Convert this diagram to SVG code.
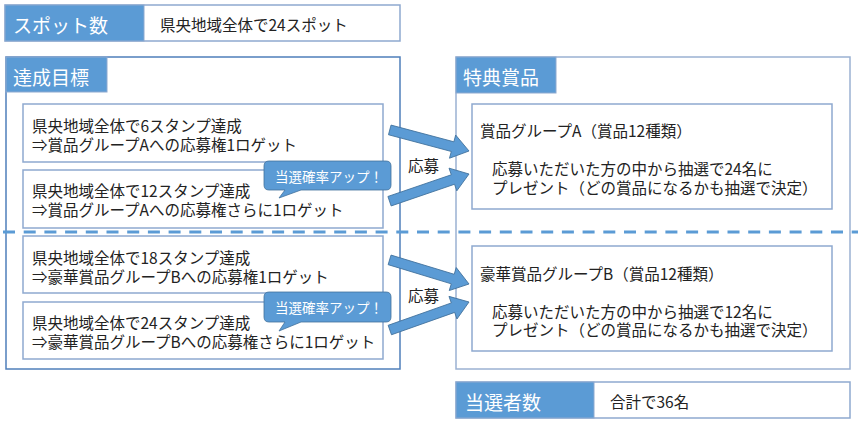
<svg xmlns="http://www.w3.org/2000/svg" width="858" height="425" viewBox="0 0 858 425">
<style>
text{font-family:"Noto Sans CJK JP","Noto Sans",sans-serif;dominant-baseline:central;}
.t{font-size:15.5px;fill:#222;}
.h{font-size:19px;fill:#fff;}
.b{font-size:13.5px;fill:#fff;}
.panel{fill:#fff;stroke:#4f7fba;stroke-width:1.5;}
.panel2{fill:#fff;stroke:#9bb1d2;stroke-width:1.5;}
.box{fill:#fff;stroke:#8ea9cf;stroke-width:1.5;}
.lab{fill:#5b9bd5;stroke:#8ea9cf;stroke-width:1;}
.arr{fill:#5b9bd5;stroke:#41719c;stroke-width:0.8;}
.bub{fill:#5b9bd5;stroke:#41719c;stroke-width:0.8;}
</style>
<rect width="858" height="425" fill="#fff"/>
<g id="spots">
<rect x="5" y="5" width="395" height="36" class="box"/>
<rect x="5" y="5" width="139" height="36" class="lab"/>
<text x="13" y="24" class="h">スポット数</text>
<text x="160" y="24" class="t">県央地域全体で24スポット</text>
</g>
<g id="goals">
<rect x="6" y="57" width="394" height="312" class="panel"/>
<rect x="6" y="57" width="101" height="35" class="lab"/>
<text x="13" y="76" class="h">達成目標</text>
</g>
<g id="prizes">
<rect x="456" y="57" width="394" height="312" class="panel2"/>
<rect x="456" y="57" width="100" height="36" class="lab"/>
<text x="463" y="76" class="h">特典賞品</text>
</g>
<g id="divider">
<line x1="3" y1="232" x2="858" y2="232" stroke="#5b9bd5" stroke-width="3" stroke-dasharray="12,8.7"/>
</g>
<g id="goal1">
<rect x="23" y="104" width="360" height="58" class="box"/>
<text x="32" y="125" class="t">県央地域全体で6スタンプ達成</text>
<text x="32" y="144" class="t">⇒賞品グループAへの応募権1ロゲット</text>
</g>
<g id="goal2">
<rect x="23" y="170" width="360" height="58" class="box"/>
<text x="32" y="190" class="t">県央地域全体で12スタンプ達成</text>
<text x="32" y="209" class="t">⇒賞品グループAへの応募権さらに1ロゲット</text>
</g>
<g id="goal3">
<rect x="23" y="236" width="360" height="57" class="box"/>
<text x="32" y="257" class="t">県央地域全体で18スタンプ達成</text>
<text x="32" y="276" class="t">⇒豪華賞品グループBへの応募権1ロゲット</text>
</g>
<g id="goal4">
<rect x="23" y="302" width="360" height="57" class="box"/>
<text x="32" y="322" class="t">県央地域全体で24スタンプ達成</text>
<text x="32" y="341" class="t">⇒豪華賞品グループBへの応募権さらに1ロゲット</text>
</g>
<g id="bubble1">
<path d="M269,161 H386 Q391,161 391,166 V185 Q391,190 386,190 H301 L279,198 L285,190 H269 Q264,190 264,185 V166 Q264,161 269,161 Z" class="bub"/>
<text x="275" y="176" class="b">当選確率アップ！</text>
</g>
<g id="bubble2">
<path d="M269,292 H386 Q391,292 391,297 V317 Q391,322 386,322 H301 L279,331 L285,322 H269 Q264,322 264,317 V297 Q264,292 269,292 Z" class="bub"/>
<text x="275" y="307" class="b">当選確率アップ！</text>
</g>
<g id="prizeA">
<rect x="472" y="104" width="360" height="105" class="box"/>
<text x="480" y="130" class="t">賞品グループA（賞品12種類）</text>
<text x="492" y="168" class="t">応募いただいた方の中から抽選で24名に</text>
<text x="492" y="187" class="t">プレゼント（どの賞品になるかも抽選で決定）</text>
</g>
<g id="prizeB">
<rect x="472" y="246" width="360" height="105" class="box"/>
<text x="480" y="273" class="t">豪華賞品グループB（賞品12種類）</text>
<text x="492" y="311" class="t">応募いただいた方の中から抽選で12名に</text>
<text x="492" y="329" class="t">プレゼント（どの賞品になるかも抽選で決定）</text>
</g>
<g id="winners">
<rect x="456" y="382" width="394" height="36" class="box"/>
<rect x="456" y="382" width="138" height="36" class="lab"/>
<text x="465" y="401" class="h">当選者数</text>
<text x="610" y="401" class="t">合計で36名</text>
</g>
<g id="connectors">
<polygon class="arr" transform="translate(469,151) rotate(14.9)" points="0,0 -17,-12 -17,-5 -82,-5 -82,5 -17,5 -17,12"/>
<polygon class="arr" transform="translate(469,174) rotate(-18.9)" points="0,0 -17,-12 -17,-5 -84,-5 -84,5 -17,5 -17,12"/>
<polygon class="arr" transform="translate(469,284) rotate(16.9)" points="0,0 -17,-12 -17,-5 -83,-5 -83,5 -17,5 -17,12"/>
<polygon class="arr" transform="translate(469,302) rotate(-19.5)" points="0,0 -17,-12 -17,-5 -84,-5 -84,5 -17,5 -17,12"/>
<text x="408" y="165" class="t">応募</text>
<text x="408" y="295" class="t">応募</text>
</g>
</svg>
